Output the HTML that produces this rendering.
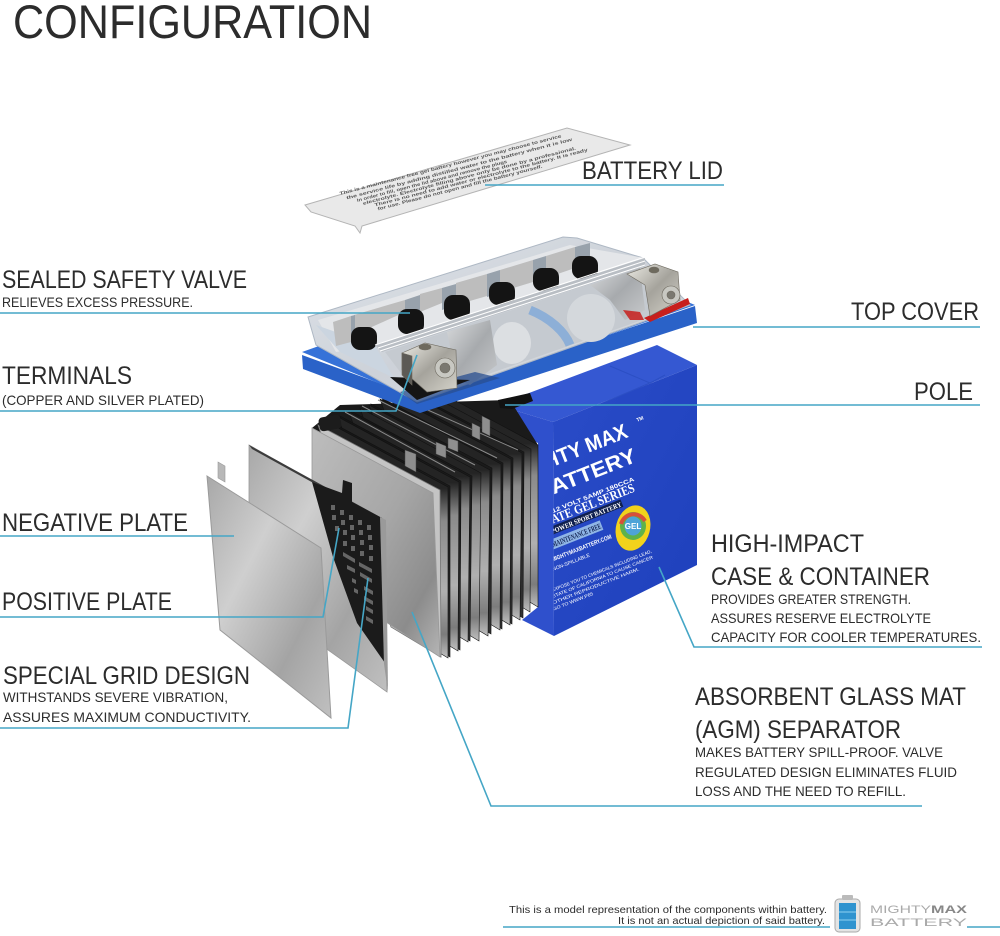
<!DOCTYPE html>
<html><head><meta charset="utf-8"><style>
html,body{margin:0;padding:0;background:#fff}
svg{display:block}
.t{font-family:"Liberation Sans",sans-serif;fill:#2c2c2c}
.h{font-size:25px}.s{font-size:14px}
.l{fill:none;stroke:#45a6c6;stroke-width:1.6}
.w{font-family:"Liberation Sans",sans-serif;fill:#fff}
</style></head><body>
<svg width="1000" height="936" viewBox="0 0 1000 936" xmlns="http://www.w3.org/2000/svg">
<defs>
<linearGradient id="p1" x1="0" y1="0" x2="1" y2="1"><stop offset="0" stop-color="#a8a8a8"/><stop offset=".35" stop-color="#cfcfcf"/><stop offset=".7" stop-color="#a4a4a4"/><stop offset="1" stop-color="#c0c0c0"/></linearGradient>
<linearGradient id="p2" x1="0" y1="0" x2="1" y2="1"><stop offset="0" stop-color="#bdbdbd"/><stop offset=".5" stop-color="#a6a6a6"/><stop offset=".8" stop-color="#8c8c8c"/><stop offset="1" stop-color="#b5b5b5"/></linearGradient>
<linearGradient id="fin" x1="0" y1="0" x2="0" y2="1"><stop offset="0" stop-color="#242424"/><stop offset=".28" stop-color="#242424"/><stop offset=".42" stop-color="#8a8a8a"/><stop offset=".72" stop-color="#b0b0b0"/><stop offset=".9" stop-color="#7c7c7c"/><stop offset="1" stop-color="#c0c0c0"/></linearGradient>
<linearGradient id="fin2" x1="0" y1="0" x2="0" y2="1"><stop offset="0" stop-color="#151515"/><stop offset=".6" stop-color="#222"/><stop offset="1" stop-color="#333"/></linearGradient>
<linearGradient id="face" x1="0" y1="0" x2="1" y2="1"><stop offset="0" stop-color="#2a4cc8"/><stop offset="1" stop-color="#1e40bc"/></linearGradient>
<linearGradient id="clear" x1="0" y1="0" x2="1" y2="1"><stop offset="0" stop-color="#dfe4ea"/><stop offset=".5" stop-color="#cdd2d9"/><stop offset="1" stop-color="#d9dbde"/></linearGradient>
<linearGradient id="nut" x1="0" y1="0" x2="1" y2="1"><stop offset="0" stop-color="#ecebe4"/><stop offset=".5" stop-color="#a5a39c"/><stop offset="1" stop-color="#d5d3ca"/></linearGradient>
<linearGradient id="silver" x1="0" y1="0" x2="1" y2="1"><stop offset="0" stop-color="#d8dadc"/><stop offset=".5" stop-color="#a7aaad"/><stop offset="1" stop-color="#c8cacc"/></linearGradient>
<clipPath id="fc"><polygon points="553,422 697,365 697,565 554,636"/></clipPath>
</defs>

<!-- Lid -->
<polygon points="305,205 567,128 630,145 362,226 360,233 355,226 311,212" fill="#e9e9e9" stroke="#b4b4b4" stroke-width="1"/>
<g transform="translate(340,195) rotate(-14.6)" font-family="Liberation Sans,sans-serif" font-size="4.5" fill="#555" font-weight="bold">
<text x="0" y="0" textLength="229" lengthAdjust="spacingAndGlyphs">This is a maintenance free gel battery however you may choose to service</text>
<text x="5.5" y="6" textLength="233" lengthAdjust="spacingAndGlyphs">the service life by adding distilled water to the battery when it is low</text>
<text x="15" y="11" textLength="155" lengthAdjust="spacingAndGlyphs">In order to fill, open the lid above and remove the plugs</text>
<text x="20" y="15.5" textLength="220" lengthAdjust="spacingAndGlyphs">electrolyte. Electrolyte filling above only be done by a professional.</text>
<text x="31" y="20" textLength="220" lengthAdjust="spacingAndGlyphs">There is no need to add water or electrolyte to the battery. It is ready</text>
<text x="33" y="24.5" textLength="170" lengthAdjust="spacingAndGlyphs">for use. Please do not open and fill the battery yourself.</text>
</g>

<!-- Case -->
<polygon points="497,405 657,345 697,365 553,422" fill="#3558d2"/>
<polygon points="497,405 553,422 554,636 522,620 538,607 538,443 500,425" fill="#2f50cc"/>
<polygon points="553,422 697,365 697,565 554,636" fill="url(#face)"/>
<path d="M605,402 L650,383 M650,383 L610,366 M650,383 L665,375" stroke="#2c4fc4" stroke-width="1" fill="none"/>
<g clip-path="url(#fc)">
<g transform="translate(553,470) rotate(-21.5)">
<text class="w" x="-42" y="-3" font-size="21" font-weight="bold" textLength="125" lengthAdjust="spacingAndGlyphs">MIGHTY MAX</text>
<text class="w" x="-25" y="23" font-size="21" font-weight="bold" textLength="107" lengthAdjust="spacingAndGlyphs">BATTERY</text>
<text class="w" x="-16" y="40" font-size="6" font-weight="bold" textLength="88" lengthAdjust="spacingAndGlyphs">12 VOLT 5AMP 180CCA</text>
<text class="w" x="-28" y="50" font-size="13" font-weight="bold" textLength="97" lengthAdjust="spacingAndGlyphs" style="font-family:'Liberation Serif',serif">GATE GEL SERIES</text>
<rect x="-26" y="52" width="78" height="8" fill="#10204f"/>
<text class="w" x="-24" y="59" font-size="7" font-weight="bold" textLength="75" lengthAdjust="spacingAndGlyphs" style="font-family:'Liberation Serif',serif">POWER SPORT BATTERY</text>
<rect x="-29" y="64" width="54" height="10" fill="#8fb5e6"/>
<text x="-28" y="72" font-family="Liberation Serif,serif" font-size="8" font-weight="bold" fill="#10204f" textLength="52" lengthAdjust="spacingAndGlyphs">MAINTENANCE FREE</text>
<text class="w" x="-34" y="85" font-size="6" font-weight="bold" textLength="64" lengthAdjust="spacingAndGlyphs">MIGHTYMAXBATTERY.COM</text>
<text class="w" x="-37" y="94" font-size="5" textLength="40" lengthAdjust="spacingAndGlyphs">NON-SPILLABLE</text>
<text class="w" x="-45" y="113" font-size="4.5" textLength="107" lengthAdjust="spacingAndGlyphs">EXPOSE YOU TO CHEMICALS INCLUDING LEAD,</text>
<text class="w" x="-47" y="119" font-size="4.5" textLength="108" lengthAdjust="spacingAndGlyphs">STATE OF CALIFORNIA TO CAUSE CANCER</text>
<text class="w" x="-49" y="125" font-size="4.5" textLength="93" lengthAdjust="spacingAndGlyphs">OTHER REPRODUCTIVE HARM.</text>
<text class="w" x="-51" y="131" font-size="4.5" textLength="43" lengthAdjust="spacingAndGlyphs">GO TO WWW.P65</text>
<text class="w" x="96" y="-14" font-size="5" font-weight="bold">TM</text>
</g>
</g>
<ellipse cx="633" cy="528" rx="17" ry="23" fill="#f2d21c" transform="rotate(15 633 528)"/>
<ellipse cx="633" cy="526" rx="13" ry="14" fill="#5fb24a"/>
<path d="M621,524 a13,13 0 0 1 24,-3" fill="none" stroke="#d8503a" stroke-width="4"/>
<ellipse cx="633" cy="526" rx="8.5" ry="9.5" fill="#4ea3d8"/>
<text class="w" x="633" y="529" font-size="8" font-weight="bold" text-anchor="middle">GEL</text>

<!-- Plate stack -->
<polygon points="340,405 510,400 538,445 440,492 312,428" fill="#1a1a1a"/>
<g stroke="#111" stroke-width=".6">
<polygon points="417,380 538,445 538,607 488,577" fill="url(#fin)"/>
<polygon points="410,384 531,449 530,612 480,582" fill="url(#fin)"/>
<polygon points="403,388 524,452 523,618 473,588" fill="url(#fin2)"/>
<polygon points="401,389 522,453 520,620 470,590" fill="url(#fin)"/>
<polygon points="392,393 513,458 512,624 462,594" fill="url(#fin2)"/>
<polygon points="390,395 511,459 510,625 460,595" fill="url(#fin)"/>
<polygon points="382,398 503,463 502,629 452,599" fill="url(#fin2)"/>
<polygon points="380,399 501,464 500,630 450,600" fill="url(#fin)"/>
<polygon points="371,404 492,468 491,634 441,604" fill="url(#fin2)"/>
<polygon points="369,405 490,470 488,636 438,606" fill="url(#fin)"/>
<polygon points="360,408 481,473 479,641 429,611" fill="url(#fin)"/>
<polygon points="351,411 472,476 470,641 420,611" fill="url(#fin2)"/>
<polygon points="349,412 470,477 468,642 418,612" fill="url(#fin)"/>
<polygon points="340,416 461,481 460,650 410,620" fill="url(#fin2)"/>
<polygon points="338,417 459,482 458,651 408,621" fill="url(#fin)"/>
<polygon points="329,421 450,486 450,657 400,627" fill="url(#fin2)"/>
<polygon points="327,422 448,487 448,658 398,628" fill="url(#fin)"/>
</g>
<polygon points="318,425 440,490 441,657 391,627" fill="#c4c4c4" stroke="#777" stroke-width=".8"/>
<g stroke="#8a8a8a" stroke-width="1" fill="none">
<path d="M345,412 L455,472 M362,406 L475,465 M378,400 L497,458 M394,395 L518,450"/>
</g>
<g fill="#8e8e8e" stroke="#444" stroke-width=".5">
<polygon points="405,450 416,454 416,472 405,466"/>
<polygon points="436,442 446,446 446,458 436,454"/>
<polygon points="448,438 458,441 458,452 448,448"/>
<polygon points="472,423 480,427 480,440 472,436"/>
<polygon points="482,416 490,420 490,436 482,432"/>
</g>
<polygon points="312,428 433,493 440,657 386,622 382,520 312,480" fill="url(#p2)" stroke="#999" stroke-width=".8"/>
<rect x="319" y="416" width="22" height="14" rx="4" fill="#1c1c1c" transform="rotate(-10 330 423)"/>

<!-- Positive plate -->
<polygon points="249,445 382,520 387,692 328,650 249,530" fill="url(#p1)" stroke="#999" stroke-width=".8"/>
<polygon points="249,445 382,518 384,522 252,449" fill="#3c3c3c"/>
<polygon points="312,482 342,493 343,480 352,483 352,502 382,518 385,663 357,623 333,557" fill="#1b1b1b"/>
<polygon points="380,517 386,520 388,692 384,664" fill="#9a9a9a"/>
<g fill="#666">
<rect x="331" y="505" width="4" height="5"/><rect x="340" y="510" width="4" height="5"/><rect x="349" y="515" width="4" height="5"/><rect x="358" y="520" width="4" height="5"/><rect x="367" y="525" width="4" height="5"/>
<rect x="332" y="515" width="4" height="5"/><rect x="341" y="520" width="4" height="5"/><rect x="350" y="525" width="4" height="5"/><rect x="359" y="530" width="4" height="5"/><rect x="368" y="535" width="4" height="5"/>
<rect x="335" y="526" width="4" height="5"/><rect x="343" y="530" width="4" height="5"/><rect x="351" y="535" width="4" height="5"/><rect x="360" y="540" width="4" height="5"/><rect x="369" y="545" width="4" height="5"/>
<rect x="343" y="541" width="4" height="5"/><rect x="351" y="546" width="4" height="5"/><rect x="360" y="551" width="4" height="5"/><rect x="369" y="556" width="4" height="5"/>
<polygon points="343,552 355,559 355,563 343,556"/><polygon points="359,562 372,569 372,573 359,566"/>
<polygon points="347,565 355,569 355,573 347,569"/><polygon points="360,572 372,579 372,583 360,576"/>
<polygon points="352,578 356,580 356,584 352,582"/><polygon points="364,586 373,591 373,595 364,590"/>
<polygon points="354,588 358,590 358,594 354,592"/><polygon points="364,596 373,601 373,605 364,600"/>
<polygon points="366,606 373,610 373,614 366,610"/><polygon points="366,616 373,620 373,624 366,620"/>
</g>

<!-- Negative plate -->
<polygon points="218,462 225,466 225,482 218,478" fill="#b8b8b8" stroke="#999" stroke-width=".6"/>
<polygon points="207,476 321,548 331,718 220,630" fill="url(#p1)" stroke="#9a9a9a" stroke-width="1"/>

<!-- Tray -->
<polygon points="302,355 303,369 420,413 697,323 695,306 420,398" fill="#2a62c8"/>
<polygon points="302,352 575,255 695,305 420,400" fill="#3672d8"/>
<!-- Clear cover -->
<polygon points="308,317 563,237 577,238 643,258 690,305 417,402 316,345" fill="url(#clear)" stroke="#aeb8c4" stroke-width="1"/>
<polygon points="318,320 570,245 645,258 375,346 336,352" fill="#e4e6e9"/>
<polygon points="316,325 375,346 394,378 340,352" fill="#cbd5e0"/>
<g fill="#bdbdbd">
<polygon points="333,322 351,316 351,342 336,346"/>
<polygon points="354,315 405,300 405,312 354,335"/>
<polygon points="420,294 442,288 442,303 420,312"/>
<polygon points="456,283 487,274 487,296 456,305"/>
<polygon points="500,270 533,260 533,282 500,292"/>
<polygon points="546,256 575,247 575,268 546,278"/>
</g>
<g fill="#98a2ac">
<polygon points="351,316 355,315 355,342 351,343"/>
<polygon points="405,300 420,295 420,320 405,325"/>
<polygon points="442,288 456,284 456,305 442,310"/>
<polygon points="487,274 500,270 500,293 487,297"/>
<polygon points="533,260 546,256 546,279 533,283"/>
<polygon points="575,247 590,243 590,265 575,270"/>
</g>
<g fill="#141414">
<rect x="351" y="327" width="26" height="23" rx="9"/><rect x="398" y="309" width="26" height="25" rx="9"/>
<rect x="444" y="295" width="26" height="25" rx="9"/><rect x="489" y="282" width="26" height="23" rx="9"/>
<rect x="533" y="268" width="26" height="23" rx="9"/><rect x="572" y="256" width="26" height="23" rx="9"/>
</g>
<polygon points="385,352 645,266 685,305 420,398" fill="#c5cad0"/>
<polygon points="375,345 645,258 645,266 382,352" fill="#b9bec4"/>
<path d="M375,345 L645,257 M378,348 L645,261 M380,351 L645,265" stroke="#fff" stroke-width="1" fill="none"/>
<ellipse cx="512" cy="343" rx="19" ry="21" fill="#dcdfe2"/><ellipse cx="591" cy="318" rx="24" ry="24" fill="#d4d8dc"/>
<path d="M530,310 C550,318 565,332 570,345" stroke="#6f9fda" stroke-width="9" fill="none" opacity=".65"/>
<polygon points="447,332 490,320 497,365 470,385 457,380" fill="url(#silver)"/>
<polygon points="590,285 640,268 645,310 625,320 610,300" fill="url(#silver)"/>
<polygon points="644,318 688,298 690,304 650,322" fill="#c71f1c"/>
<polygon points="623,310 640,312 644,320 630,320" fill="#c71f1c" opacity=".85"/>
<polygon points="400,392 417,404 500,378 475,372" fill="#2a4f90" opacity=".75"/>
<polygon points="390,377 470,380 417,400" fill="#151515"/>

<!-- Terminals -->
<g stroke="#6e6a60" stroke-width=".6">
<polygon points="402,353 425,343 456,350 457,388 427,392 402,370" fill="url(#nut)"/>
<polygon points="402,353 412,356 412,385 402,375" fill="#5c5a55"/>
<ellipse cx="425" cy="347" rx="6" ry="3" fill="#6e6a5e"/>
<circle cx="445" cy="368" r="10" fill="#c8c8c2"/><circle cx="445" cy="368" r="5" fill="#7a7870"/>
</g>
<g stroke="#6e6a60" stroke-width=".6">
<polygon points="627,274 655,264 678,272 680,300 650,316 645,285" fill="url(#nut)"/>
<ellipse cx="654" cy="270" rx="5" ry="3" fill="#6e6a5e"/>
<circle cx="671" cy="295" r="9" fill="#c8c8c2"/><circle cx="671" cy="295" r="4" fill="#7a7870"/>
</g>
<polygon points="498,400 530,393 533,401 512,409 500,408" fill="#111"/>

<!-- Leader lines -->
<polyline class="l" points="485,185 724,185"/>
<polyline class="l" points="0,313 410,313"/>
<polyline class="l" points="693,327 980,327"/>
<polyline class="l" points="0,411 396,411 417,355"/>
<polyline class="l" points="505,405 980,405"/>
<polyline class="l" points="0,536 234,536"/>
<polyline class="l" points="0,617 323,617 339,528"/>
<polyline class="l" points="0,728 348,728 368,578"/>
<polyline class="l" points="659,567 694,647 982,647"/>
<polyline class="l" points="412,612 491,806 922,806"/>
<polyline class="l" points="503,927 830,927"/>
<polyline class="l" points="967,927 1000,927"/>

<!-- Labels -->
<text class="t" x="13" y="38" font-size="47" textLength="359" lengthAdjust="spacingAndGlyphs">CONFIGURATION</text>
<text class="t h" x="582" y="179" textLength="141" lengthAdjust="spacingAndGlyphs">BATTERY LID</text>
<text class="t h" x="2" y="288" textLength="245" lengthAdjust="spacingAndGlyphs">SEALED SAFETY VALVE</text>
<text class="t s" x="2" y="307" textLength="191" lengthAdjust="spacingAndGlyphs">RELIEVES EXCESS PRESSURE.</text>
<text class="t h" x="851" y="320" textLength="128" lengthAdjust="spacingAndGlyphs">TOP COVER</text>
<text class="t h" x="2" y="384" textLength="130" lengthAdjust="spacingAndGlyphs">TERMINALS</text>
<text class="t s" x="2" y="405" textLength="202" lengthAdjust="spacingAndGlyphs">(COPPER AND SILVER PLATED)</text>
<text class="t h" x="914" y="400" textLength="59" lengthAdjust="spacingAndGlyphs">POLE</text>
<text class="t h" x="2" y="531" textLength="186" lengthAdjust="spacingAndGlyphs">NEGATIVE PLATE</text>
<text class="t h" x="2" y="610" textLength="170" lengthAdjust="spacingAndGlyphs">POSITIVE PLATE</text>
<text class="t h" x="3" y="684" textLength="247" lengthAdjust="spacingAndGlyphs">SPECIAL GRID DESIGN</text>
<text class="t s" x="3" y="702" textLength="225" lengthAdjust="spacingAndGlyphs">WITHSTANDS SEVERE VIBRATION,</text>
<text class="t s" x="3" y="722" textLength="248" lengthAdjust="spacingAndGlyphs">ASSURES MAXIMUM CONDUCTIVITY.</text>
<text class="t h" x="711" y="552" textLength="153" lengthAdjust="spacingAndGlyphs">HIGH-IMPACT</text>
<text class="t h" x="711" y="585" textLength="219" lengthAdjust="spacingAndGlyphs">CASE &amp; CONTAINER</text>
<text class="t s" x="711" y="604" textLength="200" lengthAdjust="spacingAndGlyphs">PROVIDES GREATER STRENGTH.</text>
<text class="t s" x="711" y="623" textLength="220" lengthAdjust="spacingAndGlyphs">ASSURES RESERVE ELECTROLYTE</text>
<text class="t s" x="711" y="642" textLength="270" lengthAdjust="spacingAndGlyphs">CAPACITY FOR COOLER TEMPERATURES.</text>
<text class="t h" x="695" y="705" textLength="271" lengthAdjust="spacingAndGlyphs">ABSORBENT GLASS MAT</text>
<text class="t h" x="695" y="738" textLength="206" lengthAdjust="spacingAndGlyphs">(AGM) SEPARATOR</text>
<text class="t s" x="695" y="757" textLength="248" lengthAdjust="spacingAndGlyphs">MAKES BATTERY SPILL-PROOF. VALVE</text>
<text class="t s" x="695" y="777" textLength="262" lengthAdjust="spacingAndGlyphs">REGULATED DESIGN ELIMINATES FLUID</text>
<text class="t s" x="695" y="796" textLength="211" lengthAdjust="spacingAndGlyphs">LOSS AND THE NEED TO REFILL.</text>

<!-- Footer -->
<text class="t" x="509" y="913" font-size="10.5" textLength="318" lengthAdjust="spacingAndGlyphs">This is a model representation of the components within battery.</text>
<text class="t" x="618" y="924" font-size="10.5" textLength="207" lengthAdjust="spacingAndGlyphs">It is not an actual depiction of said battery.</text>
<rect x="835" y="899" width="25" height="33" rx="4" fill="#e4e4e4" stroke="#aaa"/>
<rect x="842" y="895" width="11" height="5" rx="1" fill="#bbb"/>
<rect x="839" y="903" width="17" height="26" fill="#2f93cf"/>
<path d="M839,912 H856 M839,920 H856" stroke="#8fd0f0" stroke-width="1"/>
<text x="870" y="913" font-family="Liberation Sans,sans-serif" font-size="11" fill="#aaa" textLength="61" lengthAdjust="spacingAndGlyphs">MIGHTY</text>
<text x="931" y="913" font-family="Liberation Sans,sans-serif" font-size="11" font-weight="bold" fill="#888" textLength="36" lengthAdjust="spacingAndGlyphs">MAX</text>
<text x="870" y="926" font-family="Liberation Sans,sans-serif" font-size="11" fill="#aaa" textLength="97" lengthAdjust="spacingAndGlyphs">BATTERY</text>
</svg>
</body></html>
